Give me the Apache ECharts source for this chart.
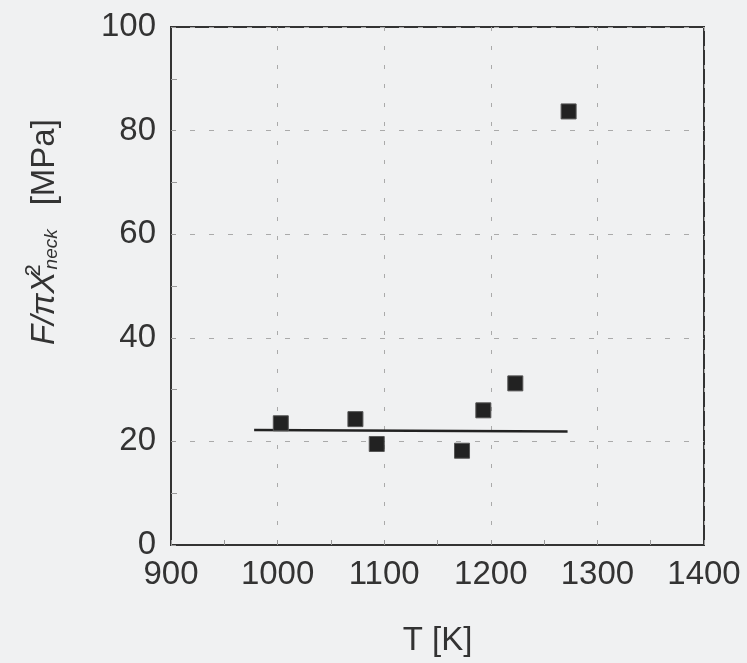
<!DOCTYPE html>
<html>
<head>
<meta charset="utf-8">
<script src="https://cdn.jsdelivr.net/npm/echarts@6/dist/echarts.min.js"></script>
<style>
  html, body { margin: 0; padding: 0; background: #f0f1f2; }
  #chart { width: 747px; height: 663px; }
</style>
</head>
<body>
<div id="chart"></div>
<script>
// Measured points
const tempK = [1003, 1073, 1093, 1173, 1193, 1223, 1273];
const stressMPa = [23.5, 24.3, 19.5, 18.2, 26.0, 31.2, 83.7];
// Fitted horizontal line end points
const fitTempK = [978, 1272];
const fitStressMPa = [22.2, 21.9];

const FONT = '"Liberation Sans", Arial, Helvetica, sans-serif';
const chart = echarts.init(document.getElementById('chart'));

const scatterData = tempK.map((t, i) => [t, stressMPa[i]]);
const lineData = fitTempK.map((t, i) => [t, fitStressMPa[i]]);

chart.setOption({
  backgroundColor: '#f0f1f2',
  animation: false,
  grid: {
    left: 171, top: 27, right: 43, bottom: 118,
    show: true, borderColor: '#333', borderWidth: 2, backgroundColor: 'transparent'
  },
  xAxis: {
    type: 'value', min: 900, max: 1400, interval: 100,
    name: 'T [K]', nameLocation: 'middle', nameGap: 79,
    nameTextStyle: { fontFamily: FONT, fontSize: 33, color: '#333' },
    axisLine: { show: true, lineStyle: { color: '#333', width: 2 } },
    axisTick: { show: true, inside: true, length: 5, lineStyle: { color: '#999', width: 1 } },
    minorTick: { show: true, splitNumber: 2, length: 5, lineStyle: { color: '#999', width: 1 } },
    axisLabel: { fontFamily: FONT, fontSize: 33, color: '#333', margin: 13, formatter: v => String(v) },
    splitLine: { show: true, lineStyle: { color: '#aaa', width: 1, type: [4, 15] } }
  },
  yAxis: {
    type: 'value', min: 0, max: 100, interval: 20,
    name: '{i|F/πX}{sup|2}{sub|neck}{n|[MPa]}',
    nameLocation: 'middle', nameRotate: 90, nameGap: 104,
    nameTextStyle: {
      fontFamily: FONT, color: '#333', padding: [0, 0, 0, 108],
      rich: {
        i: { fontFamily: FONT, fontSize: 33, fontStyle: 'italic', color: '#333' },
        sup: { fontFamily: FONT, fontSize: 22, color: '#333', padding: [0, 0, 22, 0], width: 2 },
        sub: { fontFamily: FONT, fontSize: 19, fontStyle: 'italic', color: '#333', padding: [14, 0, 0, 0] },
        n: { fontFamily: FONT, fontSize: 33, color: '#333', padding: [0, 0, 0, 24] }
      }
    },
    axisLine: { show: true, lineStyle: { color: '#333', width: 2 } },
    axisTick: { show: true, inside: true, length: 5, lineStyle: { color: '#999', width: 1 } },
    minorTick: { show: true, splitNumber: 2, length: 6, lineStyle: { color: '#999', width: 1 } },
    axisLabel: { fontFamily: FONT, fontSize: 33, color: '#333', margin: 15 },
    splitLine: { show: true, lineStyle: { color: '#aaa', width: 1, type: [5, 14] } }
  },
  series: [
    {
      type: 'line', data: lineData, symbol: 'none',
      lineStyle: { color: '#222', width: 2.5 }, z: 3
    },
    {
      type: 'scatter', data: scatterData, symbol: 'rect', symbolSize: 15,
      itemStyle: { color: '#222', borderColor: '#555', borderWidth: 1, opacity: 1 }, z: 4
    }
  ]
});
</script>
</body>
</html>
